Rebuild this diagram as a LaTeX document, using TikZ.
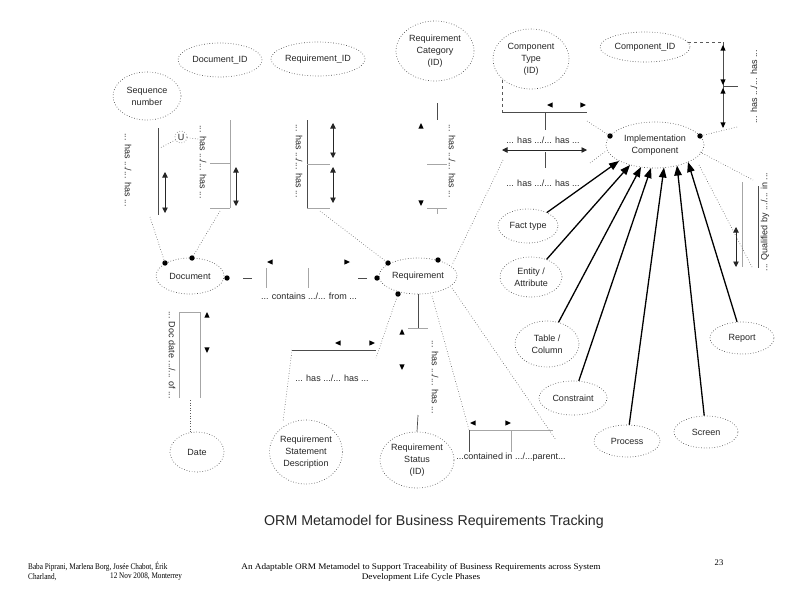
\documentclass[tikz,border=0pt]{standalone}
\usepackage{fontspec}
\setmainfont{Liberation Sans}
\newfontfamily\serifft{Liberation Serif}
\usetikzlibrary{arrows.meta,shapes.geometric}
\tikzset{
  tu/.pic={\fill[black] (0,-3) -- (2.6,2.6) -- (-2.6,2.6) -- cycle;},
  td/.pic={\fill[black] (0,3) -- (2.6,-2.6) -- (-2.6,-2.6) -- cycle;},
  tl/.pic={\fill[black] (-3,0) -- (2.6,-2.6) -- (2.6,2.6) -- cycle;},
  tr/.pic={\fill[black] (3,0) -- (-2.6,-2.6) -- (-2.6,2.6) -- cycle;},
  ent/.style={ellipse, draw=black!70, dotted, line width=0.65pt, inner sep=0pt, align=center, text=black!85, font=\fontsize{9}{12}\selectfont},
  lab/.style={inner sep=0pt, text=black!85, font=\fontsize{9}{11}\selectfont},
  conn/.style={dotted, draw=black!65, line width=0.6pt},
  dconn/.style={dashed, draw=black!65, line width=0.6pt},
  ftdark/.style={draw=black!70, line width=0.7pt},
  ftlight/.style={draw=black!35, line width=0.7pt},
  uq/.style={{Triangle[length=5.5pt,width=5.5pt]}-{Triangle[length=5.5pt,width=5.5pt]}, line width=0.7pt, draw=black!85},
  sub/.style={-{Triangle[length=10pt,width=7.5pt]}, line width=1.3pt, draw=black},
  foot/.style={inner sep=0pt, font=\serifft\fontsize{8.6}{10}\selectfont},
}
\begin{document}
\begin{tikzpicture}[x=1pt,y=-1pt]
\fill[white] (0,0) rectangle (794,595);
\useasboundingbox (0,0) rectangle (794,595);

% entity types
\node[ent, minimum width=84, minimum height=34] (docid) at (220,60) {Document\_ID};
\node[ent, minimum width=94, minimum height=34] (reqid) at (318,59) {Requirement\_ID};
\node[ent, minimum width=78, minimum height=60] (reqcat) at (435,51) {Requirement\\Category\\(ID)};
\node[ent, minimum width=76, minimum height=60] (comptype) at (531,59) {Component\\Type\\(ID)};
\node[ent, minimum width=90, minimum height=30] (compid) at (645,47) {Component\_ID};
\node[ent, minimum width=68, minimum height=48] (seqnum) at (147,96) {Sequence\\number};
\node[ent, minimum width=68, minimum height=36] (doc) at (190,276) {Document};
\node[ent, minimum width=78, minimum height=36] (req) at (418,276) {Requirement};
\node[ent, minimum width=98, minimum height=46] (ic) at (655,145) {Implementation\\Component};
\node[ent, minimum width=60, minimum height=34] (fact) at (528,226) {Fact type};
\node[ent, minimum width=62, minimum height=40] (entattr) at (531,277) {Entity /\\Attribute};
\node[ent, minimum width=64, minimum height=46] (tabcol) at (547,344) {Table /\\Column};
\node[ent, minimum width=68, minimum height=34] (constr) at (573,398) {Constraint};
\node[ent, minimum width=66, minimum height=32] (proc) at (627,441) {Process};
\node[ent, minimum width=64, minimum height=32] (screen) at (706,432) {Screen};
\node[ent, minimum width=64, minimum height=32] (report) at (742,338) {Report};
\node[ent, minimum width=54, minimum height=40] (date) at (197,452) {Date};
\node[ent, minimum width=70, minimum height=64] (rsd) at (306,452) {Requirement\\Statement\\Description};
\node[ent, minimum width=74, minimum height=56] (rstat) at (417,460) {Requirement\\Status\\(ID)};

% role dots
\coordinate (dDoc1) at (165,263);
\coordinate (dDoc2) at (192,258);
\coordinate (dDoc3) at (227,278);
\coordinate (dReq1) at (388,263);
\coordinate (dReq2) at (377,278);
\coordinate (dReq3) at (438,260);
\coordinate (dReq4) at (398,294);
\coordinate (dIC1) at (610,136);
\coordinate (dIC2) at (700,136);
\foreach \d in {dDoc1,dDoc2,dDoc3,dReq1,dReq2,dReq3,dReq4,dIC1,dIC2}
  \fill[black] (\d) circle (2.7pt);

% FT: Sequence number / Document
\draw[ftdark] (158,128) -- (158,215);
\draw[uq] (165,172) -- (165,213);
\node[lab, rotate=-90] (l1) at (128,170) {... has .../... has ...};
\coordinate (f1b) at (150,217);
\draw[conn] (f1b) -- (dDoc1);
\node[circle, draw=black!60, dotted, line width=0.6pt, minimum size=12pt, inner sep=0pt, lab] (uc) at (181,137) {U};
\coordinate (u1) at (160,148);
\coordinate (u2) at (198,139);
\draw[conn] (uc) -- (u1);
\draw[conn] (uc) -- (u2);

% FT: Document_ID / Document
\draw[ftlight] (230,120) -- (230,208);
\draw[ftlight] (210,163) -- (230,163);
\draw[ftlight] (210,208) -- (230,208);
\draw[uq] (236,167) -- (236,206);
\node[lab, rotate=-90] (l2) at (203,162) {... has .../... has ...};
\coordinate (f2b) at (220,211);
\draw[conn] (f2b) -- (dDoc2);

% FT: Requirement_ID / Requirement
\draw[ftdark] (307,120) -- (307,208);
\draw[ftlight] (307,164) -- (330,164);
\draw[ftlight] (307,208) -- (330,208);
\draw[uq] (333,123) -- (333,158);
\draw[uq] (333,167) -- (333,203);
\node[lab, rotate=-90] (l3) at (299,161) {... has .../... has ...};
\coordinate (f3b) at (320,211);
\draw[conn] (f3b) -- (dReq1);

% FT: Requirement Category / Requirement
\draw[ftdark] (437,103) -- (437,120);
\draw[ftlight] (427,164) -- (447,164);
\draw[ftlight] (427,208) -- (447,208);
\draw[ftlight] (437,208) -- (437,214);
\pic at (421,126) {tu};
\pic at (421,203) {td};
\node[lab, rotate=-90] (l4) at (452,161) {... has .../... has ...};

% FT: Component Type / Implementation Component
\coordinate (ct0) at (502,80);
\coordinate (ct1) at (502,112);
\coordinate (ct2) at (587,112);
\coordinate (ct3) at (587,121);
\draw[dconn] (ct0) -- (ct1);
\draw[ftdark] (ct1) -- (ct2);
\draw[ftdark] (545,112) -- (545,130);
\pic at (550,105) {tl};
\pic at (583,105) {tr};
\node[lab] (l5) at (543,140) {... has .../... has ...};
\draw[conn] (ct3) -- (dIC1);

% FT: Requirement / Implementation Component
\draw[uq] (502,150) -- (587,150);
\draw[ftdark] (545,152) -- (545,168);
\node[lab] (l6) at (543,183) {... has .../... has ...};
\coordinate (ri1) at (503,160);
\coordinate (ri2) at (452,265);
\coordinate (ri3) at (590,163);
\coordinate (ri4) at (606,151);
\draw[conn] (ri1) -- (ri2);
\draw[conn] (ri3) -- (ri4);

% FT: Component_ID / Implementation Component
\coordinate (ci0) at (688,42);
\coordinate (ci1) at (723,42);
\coordinate (ci2) at (723,127);
\coordinate (ci3) at (737,127);
\draw[dconn] (ci0) -- (ci1);
\draw[ftdark] (ci1) -- (ci2);
\draw[ftdark] (723,86) -- (738,86);
\pic at (723,48) {tu};
\pic at (723,82) {td};
\pic at (723,91) {tu};
\pic at (723,125) {td};
\node[lab, rotate=90] (l7) at (754,87) {... has .../... has ...};
\draw[conn] (ci3) -- (dIC2);

% FT: Qualified by / in (ring on Implementation Component)
\draw[ftlight] (742,182) -- (742,267);
\draw[uq] (736,227) -- (736,267);
\draw[ftdark] (758,186) -- (758,268);
\node[lab, rotate=90] (l8) at (765,222) {... Qualified by .../... in ...};
\coordinate (q1) at (700,152);
\coordinate (q2) at (753,180);
\coordinate (q3) at (699,165);
\coordinate (q4) at (752,267);
\draw[conn] (q1) -- (q2);
\draw[conn] (q3) -- (q4);

% FT: Document contains / from Requirement
\coordinate (dr1) at (266,278);
\coordinate (dr2) at (350,278);
\draw[draw=black!70, line width=0.7pt, dash pattern=on 0pt off 16pt on 9pt off 60pt] (dDoc3) -- (dr1);
\draw[draw=black!70, line width=0.7pt, dash pattern=on 0pt off 10pt on 9pt off 60pt] (dReq2) -- (dr2);
\draw[ftlight] (266,268) -- (266,288);
\draw[ftlight] (308,268) -- (308,288);
\pic at (270,262) {tl};
\pic at (347,262) {tr};
\node[lab] (l9) at (309,296) {... contains .../... from ...};

% FT: Document / Date
\draw[ftlight] (179,398) -- (179,312) -- (200,312) -- (200,398);
\pic at (207,315) {tu};
\pic at (207,350) {td};
\node[lab, rotate=-90] (l10) at (172,355) {... Doc date .../... of ...};
\coordinate (dt1) at (190,400);
\coordinate (dt2) at (190,433);
\draw[conn] (dt1) -- (dt2);

% FT: Requirement / Statement Description
\coordinate (sd1) at (292,350);
\coordinate (sd2) at (376,350);
\coordinate (sd3) at (283,422);
\coordinate (sd4) at (376,358);
\draw[ftdark] (sd1) -- (sd2);
\pic at (338,343) {tl};
\pic at (372,343) {tr};
\node[lab] (l11) at (332,378) {... has .../... has ...};
\draw[conn] (sd1) -- (sd3);
\draw[conn] (dReq4) -- (sd4);

% FT: Requirement / Status
\draw[ftdark] (418,294) -- (418,328);
\draw[ftlight] (408,328) -- (428,328);
\pic at (402,332) {tu};
\pic at (402,367) {td};
\node[lab, rotate=-90] (l12) at (435,377) {... has .../... has ...};
\coordinate (st1) at (418,415);
\draw[ftdark] (st1) -- (rstat.north);

% FT: contained in / parent (ring on Requirement)
\coordinate (cp1) at (469,430);
\coordinate (cp2) at (553,430);
\coordinate (cp3) at (432,296);
\coordinate (cp4) at (452,288);
\coordinate (cp5) at (556,440);
\draw[ftlight] (cp1) -- (cp2);
\draw[ftdark] (469,430) -- (469,452);
\draw[ftlight] (511,430) -- (511,452);
\pic at (473,423) {tl};
\pic at (508,423) {tr};
\node[lab] (l13) at (511,457) {...contained in .../...parent...};
\draw[conn] (cp3) -- (cp1);
\draw[conn] (cp4) -- (cp5);

% subtypes of Implementation Component
\coordinate (t1) at (619,161);
\coordinate (t2) at (630,165);
\coordinate (t3) at (641,167);
\coordinate (t4) at (651,168);
\coordinate (t5) at (664,167.5);
\coordinate (t6) at (677,165.5);
\coordinate (t7) at (688,162);
\draw[sub] (fact) -- (t1);
\draw[sub] (entattr) -- (t2);
\draw[sub] (tabcol) -- (t3);
\draw[sub] (constr) -- (t4);
\draw[sub] (proc) -- (t5);
\draw[sub] (screen) -- (t6);
\draw[sub] (report) -- (t7);

% title and footer
\node[inner sep=0pt, text=black!85, font=\fontsize{14.2}{16}\selectfont] (title) at (434,522) {ORM Metamodel for Business Requirements Tracking};
\node[foot, anchor=west] (ft1) at (28,567) {\scalebox{0.84}[1]{Baba Piprani, Marlena Borg, Josée Chabot, Érik}};
\node[foot, anchor=west] (ft2) at (28,577) {\scalebox{0.84}[1]{Charland,}};
\node[foot, anchor=west] (ft3) at (110,577) {\scalebox{0.84}[1]{12 Nov 2008, Monterrey}};
\node[foot] (ft4) at (421,567) {\scalebox{1.07}[1]{An Adaptable ORM Metamodel to Support Traceability of Business Requirements across System}};
\node[foot] (ft5) at (421,577) {\scalebox{1.07}[1]{Development Life Cycle Phases}};
\node[foot] (pg) at (719,563) {23};
\end{tikzpicture}
\end{document}
